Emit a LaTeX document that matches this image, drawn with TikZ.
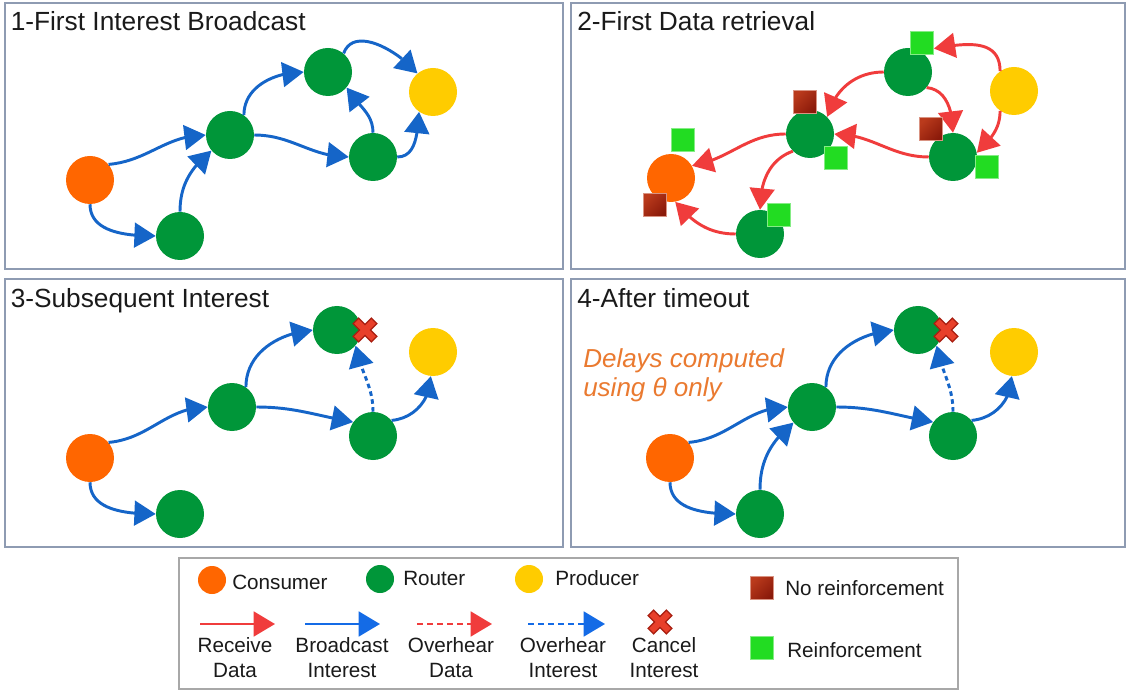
\documentclass[tikz,border=0pt]{standalone}
\usepackage{fontspec}
\setmainfont{Liberation Sans}
\usetikzlibrary{arrows.meta,bending}

\definecolor{consumer}{HTML}{FF6600}
\definecolor{router}{HTML}{009639}
\definecolor{producer}{HTML}{FFCC00}
\definecolor{intblue}{HTML}{1565C8}
\definecolor{legblue}{HTML}{146BE6}
\definecolor{datared}{HTML}{F03C3C}
\definecolor{noreinfA}{HTML}{BA3A1C}
\definecolor{noreinfB}{HTML}{8A1A0A}
\definecolor{reinf}{HTML}{22DC22}
\definecolor{panelframe}{HTML}{8E9BB2}
\definecolor{legframe}{HTML}{A8A8A8}
\definecolor{xred}{HTML}{E8402A}
\definecolor{xdark}{HTML}{A81E10}
\definecolor{notecol}{HTML}{EA7A30}
\definecolor{ink}{HTML}{1A1A1A}

\pgfdeclarelayer{front}
\pgfsetlayers{main,front}

\tikzset{
  netnode/.style={circle, inner sep=0pt, minimum size=36pt, draw=none},
  cons/.style={netnode, fill=consumer},
  rout/.style={netnode, fill=router},
  prod/.style={netnode, fill=producer},
  ldot/.style={circle, inner sep=0pt, minimum size=21pt, draw=none},
  tip/.style={-{Triangle[length=16pt,width=18.5pt]}},
  interest/.style={draw=intblue, line width=2.2pt, tip},
  overint/.style={interest, dash pattern=on 3.4pt off 2.6pt},
  data/.style={draw=datared, line width=2.2pt, tip},
  legint/.style={draw=legblue, line width=2.2pt, tip},
  legoverint/.style={legint, dash pattern=on 4.5pt off 3pt},
  legoverdata/.style={data, dash pattern=on 4.5pt off 3pt},
  sq/.style={rectangle, minimum size=17.25pt, inner sep=0pt, line width=0.6pt},
  reinfsq/.style={sq, fill=reinf, draw=reinf!55!white},
  noreinfsq/.style={sq, top color=noreinfA, bottom color=noreinfB, shading angle=45, draw=noreinfA!55!white},
  panel/.style={draw=panelframe, line width=0.9pt},
  title/.style={inner sep=0pt, text=ink, font=\fontsize{19.7pt}{23pt}\selectfont, anchor=base west},
  legtext/.style={inner sep=0pt, text=ink, font=\fontsize{15.5pt}{18pt}\selectfont},
  notetext/.style={inner sep=0pt, text=notecol, font=\fontsize{19.5pt}{23pt}\selectfont\itshape, anchor=base west},
  cancelx/.pic={
    \draw[line width=6.8pt, draw=xdark] (-9.6,-9.6) -- (9.6,9.6) (-9.6,9.6) -- (9.6,-9.6);
    \draw[line width=4.6pt, draw=xred] (-8.6,-8.6) -- (8.6,8.6) (-8.6,8.6) -- (8.6,-8.6);
  }
}

\begin{document}
\begin{tikzpicture}[x=0.75pt,y=-0.75pt]
\useasboundingbox (0,0) rectangle (1127,691);
\fill[white] (0,0) rectangle (1127,691);

% ---------- panel frames and titles ----------
\draw[panel] (5,3) rectangle (563,269);
\draw[panel] (571,3) rectangle (1125,269);
\draw[panel] (5,279) rectangle (563,547);
\draw[panel] (571,279) rectangle (1125,547);

\node[title] (h1) at (10.5,31) {1-First Interest Broadcast};
\node[title] (h2) at (577,31) {2-First Data retrieval};
\node[title] (h3) at (10.5,308) {3-Subsequent Interest};
\node[title] (h4) at (577,308) {4-After timeout};

% ---------- 1: first interest broadcast ----------
\node[cons] (c1) at (90,180) {};
\node[rout] (b1) at (180,236) {};
\node[rout] (m1) at (230,135) {};
\node[rout] (t1) at (328,72) {};
\node[rout] (r1) at (373,157) {};
\node[prod] (p1) at (433,92) {};
\draw[interest] (c1.40) to[out=5,in=180] (m1.west);
\draw[interest] (c1.south) to[out=-90,in=180] (b1.west);
\draw[interest] (b1.north) to[out=90,in=220] (m1.220);
\draw[interest] (m1.55) to[out=90,in=180] (t1.west);
\draw[interest] (m1.east) to[out=0,in=180] (r1.west);
\draw[interest] (r1.north) to[out=90,in=-60] (t1.-40);
\draw[interest] (r1.east) to[out=0,in=-95] (p1.-125);
\draw[interest] (t1.50) to[out=70,in=130] (p1.130);

% ---------- 2: first data retrieval ----------
\node[cons] (c2) at (671,178) {};
\node[rout] (b2) at (760,234) {};
\node[rout] (m2) at (810,134) {};
\node[rout] (t2) at (908,72) {};
\node[rout] (r2) at (953,157) {};
\node[prod] (p2) at (1014,91) {};
\begin{pgfonlayer}{front}
\node[reinfsq] (s21) at (922,43) {};
\node[noreinfsq] (s22) at (805,102) {};
\node[reinfsq] (s23) at (836,158) {};
\node[reinfsq] (s24) at (683,140) {};
\node[noreinfsq] (s25) at (655,205) {};
\node[reinfsq] (s26) at (779,215) {};
\node[noreinfsq] (s27) at (931,129) {};
\node[reinfsq] (s28) at (987,167) {};
\end{pgfonlayer}
\draw[data] (p2.125) to[out=90,in=10,looseness=1.2] (s21.-25);
\draw[data] (p2.-125) to[out=-90,in=45] (r2.10);
\draw[data] (t2.-40) to[out=-5,in=90] (r2.north);
\draw[data] (t2.west) to[out=180,in=75] (m2.45);
\draw[data] (r2.west) to[out=180,in=0] (m2.east);
\draw[data] (m2.west) to[out=180,in=10] (c2.30);
\draw[data] (m2.225) to[out=200,in=90] (b2.north);
\draw[data] (b2.west) to[out=180,in=-50] (c2.-80);

% ---------- 3: subsequent interest ----------
\node[cons] (c3) at (90,458) {};
\node[rout] (b3) at (180,514) {};
\node[rout] (m3) at (232,407) {};
\node[rout] (t3) at (337,330) {};
\node[rout] (r3) at (373,436) {};
\node[prod] (p3) at (433,352) {};
\draw[interest] (c3.40) to[out=5,in=180] (m3.west);
\draw[interest] (c3.south) to[out=-90,in=180] (b3.west);
\draw[interest] (m3.55) to[out=90,in=185] (t3.west);
\draw[interest] (m3.east) to[out=0,in=170] (r3.145);
\draw[overint] (r3.north) to[out=90,in=-80] (t3.-40);
\draw[interest] (r3.40) to[out=5,in=-90] (p3.-95);
\pic (x3) at (365,330) {cancelx};

% ---------- 4: after timeout ----------
\node[cons] (c4) at (670,458) {};
\node[rout] (b4) at (760,514) {};
\node[rout] (m4) at (812,407) {};
\node[rout] (t4) at (918,330) {};
\node[rout] (r4) at (953,436) {};
\node[prod] (p4) at (1014,352) {};
\draw[interest] (c4.40) to[out=5,in=180] (m4.west);
\draw[interest] (c4.south) to[out=-90,in=180] (b4.west);
\draw[interest] (b4.north) to[out=90,in=220] (m4.220);
\draw[interest] (m4.55) to[out=90,in=185] (t4.west);
\draw[interest] (m4.east) to[out=0,in=170] (r4.145);
\draw[overint] (r4.north) to[out=90,in=-80] (t4.-40);
\draw[interest] (r4.40) to[out=5,in=-90] (p4.-95);
\pic (x4) at (946,330) {cancelx};
\node[notetext] (n1) at (583,367) {Delays computed};
\node[notetext] (n2) at (583,396) {using θ only};

% ---------- legend ----------
\draw[draw=legframe, line width=0.9pt] (179,558) rectangle (958,689);
\node[ldot, fill=consumer] (lc) at (212,580) {};
\node[legtext, anchor=base west] (lct) at (232,589) {Consumer};
\node[ldot, fill=router] (lr) at (380,579) {};
\node[legtext, anchor=base west] (lrt) at (403,585) {Router};
\node[ldot, fill=producer] (lp) at (529,579) {};
\node[legtext, anchor=base west] (lpt) at (555,585) {Producer};
\node[noreinfsq] (lnr) at (762,588) {};
\node[legtext, anchor=base west] (lnrt) at (785,595) {No reinforcement};
\node[reinfsq] (lre) at (762,648) {};
\node[legtext, anchor=base west] (lret) at (787,657) {Reinforcement};

\coordinate (a1s) at (200,624); \coordinate (a1e) at (275,624);
\coordinate (a2s) at (305,624); \coordinate (a2e) at (380,624);
\coordinate (a3s) at (417,624); \coordinate (a3e) at (492,624);
\coordinate (a4s) at (528,624); \coordinate (a4e) at (605,624);
\draw[data] (a1s) -- (a1e);
\draw[legint] (a2s) -- (a2e);
\draw[legoverdata] (a3s) -- (a3e);
\draw[legoverint] (a4s) -- (a4e);
\pic (lx) at (660,622) {cancelx};

\node[legtext, anchor=base] (l1a) at (235,652) {Receive};
\node[legtext, anchor=base] (l1b) at (235,677) {Data};
\node[legtext, anchor=base] (l2a) at (342,652) {Broadcast};
\node[legtext, anchor=base] (l2b) at (342,677) {Interest};
\node[legtext, anchor=base] (l3a) at (451,652) {Overhear};
\node[legtext, anchor=base] (l3b) at (451,677) {Data};
\node[legtext, anchor=base] (l4a) at (563,652) {Overhear};
\node[legtext, anchor=base] (l4b) at (563,677) {Interest};
\node[legtext, anchor=base] (l5a) at (664,652) {Cancel};
\node[legtext, anchor=base] (l5b) at (664,677) {Interest};
\end{tikzpicture}
\end{document}
